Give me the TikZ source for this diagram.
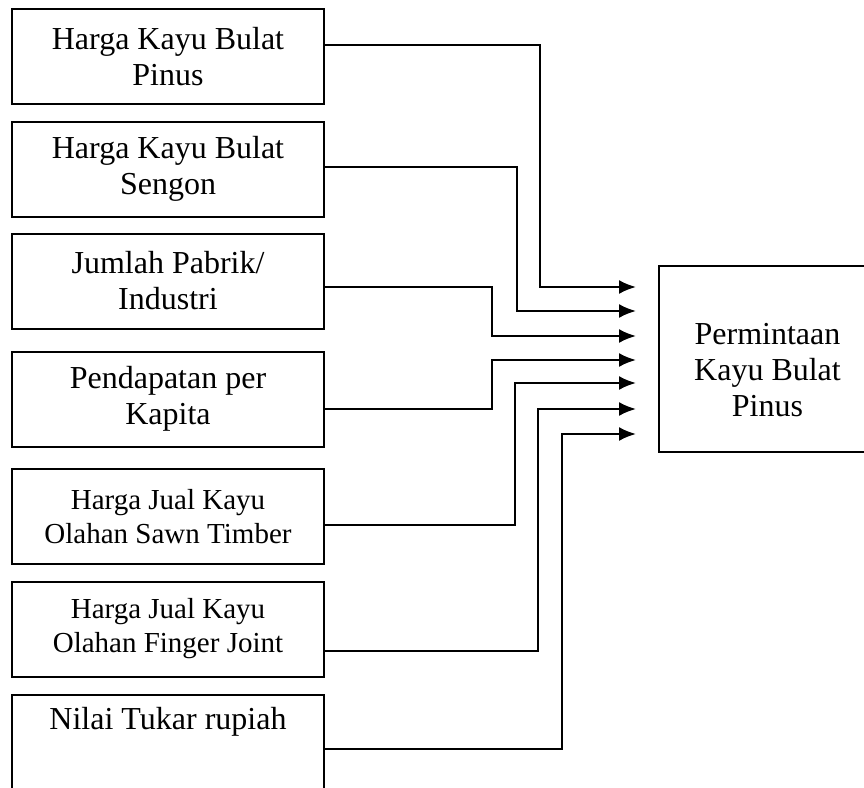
\documentclass[tikz,border=0pt]{standalone}
\usepackage{fontspec}
\setmainfont{Liberation Serif}
\usetikzlibrary{arrows.meta}

\begin{document}
\begin{tikzpicture}[x=1pt,y=-1pt]
\tikzset{txt/.style = {font=\fontsize{32}{36}\selectfont},
small/.style = {font=\fontsize{29}{34}\selectfont},
box/.style = {draw=black, line width=2pt, minimum width=312pt, minimum height=95pt, align=center, txt},
edge/.style = {-{Latex[length=17pt,width=14pt]}, line width=2.2pt}}

\useasboundingbox (0,0) rectangle (864,787);
\clip (0,0) rectangle (864,787);

\node[box] (A) at (168,56.5) {Harga Kayu Bulat\\Pinus};
\node[box] (B) at (168,169) {Harga Kayu Bulat\\Sengon};
\node[box] (C) at (168,281) {Jumlah Pabrik/\\Industri};
\node[box] (D) at (168,399) {Pendapatan per\\Kapita};
\node[box,small] (E) at (168,516.5) {Harga Jual Kayu\\Olahan Sawn Timber};
\node[box,small] (F) at (168,629) {Harga Jual Kayu\\Olahan Finger Joint};
\node[box, anchor=north, minimum height=140pt,
  label={[txt, anchor=north, inner sep=0pt, yshift=-13pt]north:Nilai Tukar rupiah}] (G) at (168,694) {};
\node[draw=black, line width=2pt, minimum width=218pt, minimum height=186pt,
  label={[txt, align=center, yshift=-12pt]center:Permintaan\\Kayu Bulat\\Pinus}] (H) at (767.5,358.5) {};

\coordinate (t1) at (636,287);
\coordinate (t2) at (636,311);
\coordinate (t3) at (636,336);
\coordinate (t4) at (636,360);
\coordinate (t5) at (636,383);
\coordinate (t6) at (636,409);
\coordinate (t7) at (636,434);

\draw[edge] (A.east |- 0,45) -| (540,287) -- (t1);
\draw[edge] (B.east |- 0,167) -| (517,311) -- (t2);
\draw[edge] (C.east |- 0,287) -| (492,336) -- (t3);
\draw[edge] (D.east |- 0,409) -| (492,360) -- (t4);
\draw[edge] (E.east |- 0,525) -| (515,383) -- (t5);
\draw[edge] (F.east |- 0,651) -| (538,409) -- (t6);
\draw[edge] (G.east |- 0,749) -| (562,434) -- (t7);

\end{tikzpicture}
\end{document}
